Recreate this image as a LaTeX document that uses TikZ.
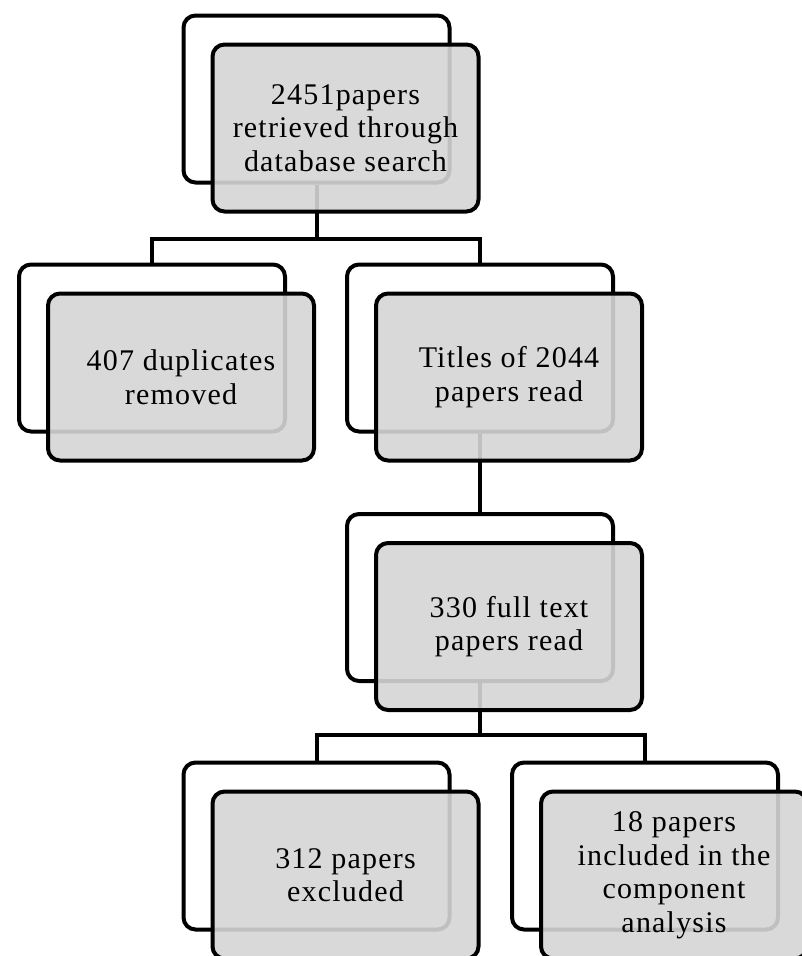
\documentclass[tikz,border=0pt]{standalone}
\usepackage{fontspec}
\setmainfont{Liberation Serif}[LetterSpace=4]
\usetikzlibrary{calc}
\definecolor{boxgray}{HTML}{D5D5D5}

\begin{document}
\begin{tikzpicture}[x=1pt, y=1pt,
            back/.style={draw, line width=4pt, rounded corners=12pt, fill=white,
                         minimum width=266pt, minimum height=167pt},
            front/.style={back, fill=boxgray, fill opacity=.9, text opacity=1,
                          align=center, font=\fontsize{30}{33.5}\selectfont},
            link/.style={line width=4pt}
        ]
        \useasboundingbox (0,0) rectangle (801,-956);

        % back cards
        \node[back] (rootb) at (316.5,-99) {};
        \node[back] (dupb)  at (152,-348) {};
        \node[back] (titb)  at (480,-348) {};
        \node[back] (fulb)  at (480,-597.5) {};
        \node[back] (excb)  at (316.5,-846) {};
        \node[back] (incb)  at (645,-846) {};

        % links between the cards
        \draw[link] (rootb.south) -- ++(0,-54) -| (dupb.north);
        \draw[link] (rootb.south) -- ++(0,-54) -| (titb.north);
        \draw[link] (titb.south) -- (fulb.north);
        \draw[link] (fulb.south) -- ++(0,-52) -| (excb.north);
        \draw[link] (fulb.south) -- ++(0,-52) -| (incb.north);

        % front cards
        \node[front] (root) at ($(rootb)+(29,-29)$) {2451papers\\retrieved through\\database search};
        \node[front] (dup)  at ($(dupb)+(29,-29)$)  {407 duplicates\\removed};
        \node[front] (tit)  at ($(titb)+(29,-29)$)  {Titles of 2044\\papers read};
        \node[front] (ful)  at ($(fulb)+(29,-29)$)  {330 full text\\papers read};
        \node[front] (exc)  at ($(excb)+(29,-29)$)  {312 papers\\excluded};
        \node[front] (inc)  at ($(incb)+(29,-29)$)  {18 papers\\included in the\\component\\analysis};
    \end{tikzpicture}
\end{document}
